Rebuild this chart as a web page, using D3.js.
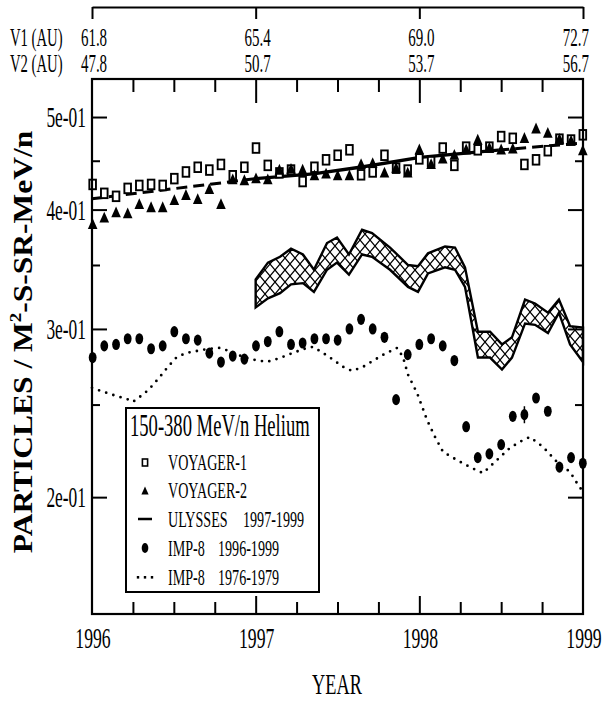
<!DOCTYPE html>
<html>
<head>
<meta charset="utf-8">
<script src="https://cdn.jsdelivr.net/npm/d3@7"></script>
<style>
body { margin:0; background:#fff; }
svg { display:block; }
text { font-family: "Liberation Serif", "Times New Roman", serif; fill:#000; }
</style>
</head>
<body>
<div id="viz-container"></div>
<script>
// 27-day averages (decimal year)
var rotYears = [1996.004,1996.075,1996.147,1996.218,1996.289,1996.361,1996.432,1996.503,1996.574,1996.646,
	1996.717,1996.788,1996.860,1996.931,1997.002,1997.074,1997.145,1997.216,1997.287,1997.359,
	1997.430,1997.501,1997.573,1997.644,1997.715,1997.787,1997.858,1997.929,1998.000,1998.072,
	1998.143,1998.214,1998.286,1998.357,1998.428,1998.500,1998.571,1998.642,1998.713,1998.785,
	1998.856,1998.927,1998.999];

var voyager1 = [0.425,0.416,0.413,0.421,0.424,0.425,0.424,0.431,0.438,0.443,
	0.440,0.446,0.434,0.443,0.464,0.445,0.437,0.440,0.428,0.443,
	0.451,0.456,0.462,0.435,0.438,0.456,0.442,0.440,0.452,0.449,
	0.464,0.445,0.465,0.462,0.465,0.477,0.475,0.446,0.451,0.461,
	0.474,0.473,0.479];

var voyager2 = [0.386,0.392,0.397,0.396,0.405,0.402,0.402,0.409,0.414,0.410,
	0.420,0.405,0.430,0.429,0.431,0.430,0.440,0.441,0.440,0.434,
	0.436,0.434,0.434,0.446,0.447,0.437,0.442,0.437,0.462,0.446,
	0.452,0.456,0.462,0.473,0.464,0.462,0.463,0.475,0.486,0.481,
	0.474,0.472,0.461];

var imp8 = [0.280,0.288,0.289,0.293,0.293,0.286,0.288,0.298,0.293,0.292,
	0.283,0.277,0.281,0.279,0.288,0.291,0.298,0.289,0.290,0.293,
	0.293,0.292,0.300,0.307,0.300,0.294,0.253,0.282,0.289,0.293,
	0.288,0.278,0.237,0.220,0.222,0.227,0.243,0.244,0.254,0.246,
	0.215,0.220,0.217];

// one error bar drawn on the IMP-8 series
var imp8ErrIndex = 37, imp8ErrLow = 0.239, imp8ErrHigh = 0.249;

// Ulysses: measured part and dashed extension
var ulyssesYears = [1997.0,1997.352,1997.658,1998.004,1998.482];
var ulyssesVals = [0.431,0.436,0.4435,0.4536,0.4617];
var ulyssesDashYears1 = [1996.0,1997.0];
var ulyssesDashVals1 = [0.4106,0.431];
var ulyssesDashYears2 = [1998.482,1999.0];
var ulyssesDashVals2 = [0.4617,0.4696];

// cross-hatched band
var bandYears = [1997.0,1997.075,1997.149,1997.216,1997.289,1997.356,1997.436,1997.497,1997.570,1997.650,
	1997.711,1997.821,1997.931,1997.992,1998.053,1998.157,1998.218,1998.279,1998.358,1998.432,
	1998.505,1998.566,1998.646,1998.707,1998.786,1998.853,1998.921,1999.0];
var bandTop = [0.338,0.352,0.357,0.364,0.359,0.346,0.369,0.374,0.359,0.381,
	0.378,0.365,0.350,0.349,0.360,0.366,0.365,0.348,0.298,0.298,
	0.289,0.294,0.322,0.319,0.312,0.322,0.302,0.301];
var bandBottom = [0.316,0.323,0.327,0.334,0.335,0.328,0.346,0.352,0.342,0.359,
	0.357,0.346,0.332,0.328,0.343,0.348,0.346,0.332,0.280,0.280,
	0.272,0.280,0.304,0.303,0.297,0.312,0.289,0.277];

// IMP-8 1976-1979 (dotted)
var oldYears = [1996.0,1996.073,1996.147,1996.214,1996.25,1996.324,1996.367,1996.415,1996.464,1996.519,
	1996.580,1996.642,1996.709,1996.782,1996.855,1996.923,1996.996,1997.069,1997.149,1997.228,
	1997.314,1997.350,1997.411,1997.466,1997.534,1997.589,1997.656,1997.717,1997.778,1997.864,
	1997.900,1997.931,1997.986,1998.047,1998.096,1998.145,1998.230,1998.310,1998.389,1998.474,
	1998.554,1998.633,1998.676,1998.756,1998.841,1998.921,1998.963,1999.0];
var oldVals = [0.2603,0.2577,0.2553,0.2534,0.2516,0.2571,0.2615,0.2673,0.2738,0.2804,
	0.2832,0.2845,0.2859,0.2866,0.2838,0.2804,0.2784,0.2771,0.2797,0.2832,
	0.2866,0.2873,0.2832,0.2791,0.2738,0.2711,0.2738,0.2778,0.2818,0.2866,
	0.2804,0.2686,0.2571,0.2409,0.2312,0.2230,0.2187,0.2150,0.2119,0.2187,
	0.2252,0.2295,0.2312,0.2257,0.2177,0.2125,0.2069,0.2025];

// axes
var yearTicks = [1996,1997,1998,1999];
var quarterTicks = [1996.25,1996.5,1996.75,1997.25,1997.5,1997.75,1998.25,1998.5,1998.75];
var v1Dist = ["61.8","65.4","69.0","72.7"];
var v2Dist = ["47.8","50.7","53.7","56.7"];
var yTicks = [0.2,0.3,0.4,0.5];
var yTickLabels = ["2e-01","3e-01","4e-01","5e-01"];
var yMinor = [0.25,0.35,0.45];

var legendItems = ["VOYAGER-1","VOYAGER-2","ULYSSES","IMP-8","IMP-8"];
var legendYears = ["","","1997-1999","1996-1999","1976-1979"];

var width = 603, height = 701;
var svg = d3.select('#viz-container').append('svg')
	.attr('width', width).attr('height', height);

var x = d3.scaleLinear().domain([1996,1999]).range([92,583]);
var y = d3.scaleLog().domain([0.1509,0.548]).range([614,79]);

// text is narrow and tall in the original
function label(px, py, str, size, anchor, sx) {
	return svg.append('text')
		.attr('transform','translate('+px+','+py+') scale('+(sx||0.6)+',1)')
		.attr('text-anchor', anchor || 'start')
		.style('font-size', size+'px')
		.text(str);
}

function tickAxis(axisFn, scale, vals, size, tx, ty) {
	var a = axisFn(scale).tickValues(vals).tickSize(size).tickSizeOuter(0).tickFormat('');
	var g = svg.append('g').attr('transform','translate('+tx+','+ty+')').call(a);
	g.select('.domain').remove();
	g.selectAll('line').attr('stroke','#000').attr('stroke-width',2);
	return g;
}

// hatch pattern
var defs = svg.append('defs');
var pat = defs.append('pattern').attr('id','hatch')
	.attr('patternUnits','userSpaceOnUse').attr('width',10).attr('height',12);
pat.append('rect').attr('width',10).attr('height',12).attr('fill','#fff');
pat.append('path').attr('d','M-1,-1.2L11,13.2M11,-1.2L-1,13.2')
	.attr('stroke','#000').attr('stroke-width',1.2).attr('fill','none');

// band
var band = d3.area()
	.x(function(d,i){ return x(bandYears[i]); })
	.y0(function(d,i){ return y(bandBottom[i]); })
	.y1(function(d,i){ return y(bandTop[i]); });
svg.append('path').datum(bandYears)
	.attr('d', band)
	.attr('fill','url(#hatch)')
	.attr('stroke','#000').attr('stroke-width',2.4);

// IMP-8 1976-1979 dotted
var oldLine = d3.line()
	.x(function(d,i){ return x(oldYears[i]); })
	.y(function(d,i){ return y(oldVals[i]); });
svg.append('path').datum(oldYears)
	.attr('d', oldLine)
	.attr('fill','none').attr('stroke','#000')
	.attr('stroke-width',2.8).attr('stroke-linecap','round')
	.attr('stroke-dasharray','0,7.5');

// Ulysses
function simpleLine(xs, vs) {
	return d3.line()
		.x(function(d,i){ return x(xs[i]); })
		.y(function(d,i){ return y(vs[i]); })(xs);
}
svg.append('path').attr('d', simpleLine(ulyssesDashYears1, ulyssesDashVals1))
	.attr('fill','none').attr('stroke','#000').attr('stroke-width',3).attr('stroke-dasharray','11,6');
svg.append('path').attr('d', simpleLine(ulyssesDashYears2, ulyssesDashVals2))
	.attr('fill','none').attr('stroke','#000').attr('stroke-width',3).attr('stroke-dasharray','11,6');
svg.append('path').attr('d', simpleLine(ulyssesYears, ulyssesVals))
	.attr('fill','none').attr('stroke','#000').attr('stroke-width',3.4);

// IMP-8 1996-1999
svg.append('line')
	.attr('x1', x(rotYears[imp8ErrIndex])).attr('x2', x(rotYears[imp8ErrIndex]))
	.attr('y1', y(imp8ErrLow)).attr('y2', y(imp8ErrHigh))
	.attr('stroke','#000').attr('stroke-width',1.5);
svg.append('g').selectAll('ellipse')
	.data(imp8).enter()
	.append('ellipse')
	.attr('cx', function(d,i){ return x(rotYears[i]); })
	.attr('cy', function(d){ return y(d); })
	.attr('rx',3.9).attr('ry',5.6)
	.attr('fill','#000');

// Voyager-1 squares
svg.append('g').selectAll('rect')
	.data(voyager1).enter()
	.append('rect')
	.attr('x', function(d,i){ return x(rotYears[i]) - 3.3; })
	.attr('y', function(d){ return y(d) - 4.8; })
	.attr('width',6.6).attr('height',9.6)
	.attr('fill','#fff').attr('stroke','#000').attr('stroke-width',1.9);

// Voyager-2 triangles
var triPath = 'M0,-6.2L4.8,4.6L-4.8,4.6Z';
svg.append('g').selectAll('path')
	.data(voyager2).enter()
	.append('path')
	.attr('d', triPath)
	.attr('transform', function(d,i){ return 'translate('+x(rotYears[i])+','+y(d)+')'; })
	.attr('fill','#000');

// frame and ticks
svg.append('rect').attr('x',92).attr('y',79).attr('width',491).attr('height',535)
	.attr('fill','none').attr('stroke','#000').attr('stroke-width',2.2);

tickAxis(d3.axisBottom, x, [1997,1998], -18, 0, 614);
tickAxis(d3.axisBottom, x, quarterTicks, -12, 0, 614);
tickAxis(d3.axisTop, x, [1997,1998], -24, 0, 79);
tickAxis(d3.axisTop, x, quarterTicks, -13, 0, 79);
tickAxis(d3.axisLeft, y, yTicks, -15, 92, 0);
tickAxis(d3.axisLeft, y, yMinor, -8, 92, 0);
tickAxis(d3.axisRight, y, yTicks, -15, 583, 0);
tickAxis(d3.axisRight, y, yMinor, -8, 583, 0);

// distance axis on top
var distAxis = d3.axisBottom(x).tickValues(yearTicks).tickSize(12).tickSizeOuter(0).tickFormat('');
var dg = svg.append('g').attr('transform','translate(0,7)').call(distAxis);
dg.selectAll('line, path').attr('stroke','#000').attr('stroke-width',2);

label(10, 46, 'V1 (AU)', 24.5);
label(10, 72, 'V2 (AU)', 24.5);
yearTicks.forEach(function(d,i){
	var last = i === yearTicks.length - 1;
	var px = last ? 589 : x(d) + 2;
	label(px, 46, v1Dist[i], 25, last ? 'end' : 'middle');
	label(px, 72, v2Dist[i], 25, last ? 'end' : 'middle');
});

// tick labels
yearTicks.forEach(function(d){
	label(x(d) + 1, 648, String(d), 29.5, 'middle');
});
yTicks.forEach(function(d,i){
	label(86, y(d) + 10, yTickLabels[i], 29, 'end');
});

label(337, 694, 'YEAR', 30, 'middle', 0.61);

var yt = svg.append('text')
	.attr('transform','translate(32,342) rotate(-90) scale(1,0.9)')
	.attr('text-anchor','middle')
	.style('font-size','31.5px').style('font-weight','bold');
yt.append('tspan').text('PARTICLES / M');
yt.append('tspan').attr('dy',-12).style('font-size','19px').text('2');
yt.append('tspan').attr('dy',12).text('-S-SR-MeV/n');

// legend
var lg = svg.append('g');
lg.append('rect').attr('x',126).attr('y',408).attr('width',193).attr('height',184)
	.attr('fill','#fff').attr('stroke','#000').attr('stroke-width',2);
label(130, 436, '150-380 MeV/n Helium', 31);

var rowY = [470, 498, 527, 556, 585];
var yearX = [0, 0, 243, 218, 218];
legendItems.forEach(function(d,i){
	label(168, rowY[i], d, 23.5);
	if (legendYears[i]) label(yearX[i], rowY[i], legendYears[i], 23.5);
});
var sx = 145;
lg.append('rect').attr('x',sx-2.6).attr('y',rowY[0]-11).attr('width',5.2).attr('height',7)
	.attr('fill','#fff').attr('stroke','#000').attr('stroke-width',1.6);
lg.append('path').attr('d','M0,-4.5L3.6,3.5L-3.6,3.5Z')
	.attr('transform','translate('+sx+','+(rowY[1]-7)+')').attr('fill','#000');
lg.append('line').attr('x1',sx-7).attr('x2',sx+7).attr('y1',rowY[2]-8).attr('y2',rowY[2]-8)
	.attr('stroke','#000').attr('stroke-width',2.5);
lg.append('ellipse').attr('cx',sx).attr('cy',rowY[3]-8).attr('rx',3.3).attr('ry',5)
	.attr('fill','#000');
[-7,0,7].forEach(function(o){
	lg.append('rect').attr('x',sx+o-1.2).attr('y',rowY[4]-9).attr('width',2.4).attr('height',2.6)
		.attr('fill','#000');
});
</script>
</body>
</html>
